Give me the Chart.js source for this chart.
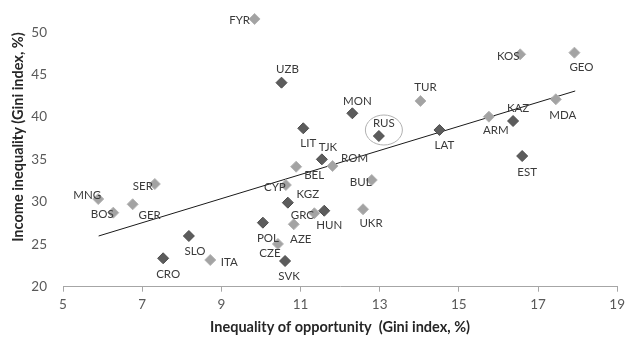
<!DOCTYPE html>
<html>
<head>
<meta charset="utf-8">
<script src="https://cdn.jsdelivr.net/npm/chart.js@4/dist/chart.umd.min.js"></script>
<style>
  html, body { margin: 0; padding: 0; background: #fff; }
  #wrap { width: 630px; height: 338px; position: relative; }
</style>
</head>
<body>
<div id="wrap"><canvas id="c"></canvas></div>
<script>
// Countries with darker markers
const darkCountries = ['UZB', 'MON', 'RUS', 'LIT', 'TJK', 'KGZ', 'HUN', 'POL', 'SVK', 'CRO', 'SLO', 'LAT', 'KAZ', 'EST'];
const darkOpportunity = [10.52, 12.31, 12.98, 11.07, 11.54, 10.68, 11.6, 10.05, 10.61, 7.53, 8.18, 14.51, 16.37, 16.6];
const darkIncome = [44.06, 40.45, 37.77, 38.68, 35.02, 29.91, 28.96, 27.55, 23.03, 23.35, 25.98, 38.48, 39.54, 35.41];

// Countries with lighter markers
const lightCountries = ['FYR', 'TUR', 'KOS', 'GEO', 'MDA', 'ARM', 'ROM', 'BEL', 'CYP', 'BUL', 'GRC', 'AZE', 'CZE', 'UKR', 'ITA', 'MNG', 'BOS', 'SER', 'GER'];
const lightOpportunity = [9.84, 14.03, 16.55, 17.92, 17.45, 15.76, 11.81, 10.89, 10.63, 12.8, 11.35, 10.83, 10.43, 12.58, 8.72, 5.89, 6.27, 7.32, 6.76];
const lightIncome = [51.57, 41.9, 47.4, 47.6, 42.1, 40.05, 34.23, 34.15, 31.99, 32.58, 28.66, 27.36, 25.04, 29.13, 23.15, 30.34, 28.73, 32.11, 29.72];

// Linear trend line end points
const trendOpportunity = [5.9, 17.94];
const trendIncome = [25.98, 43.08];

// Axis tick values
const xTicks = [5, 7, 9, 11, 13, 15, 17, 19];
const yTicks = [20, 25, 30, 35, 40, 45, 50];

const highlightCountry = 'RUS';

// Label placement relative to each marker (pixels)
const labelOffset = {
  FYR: [-15, 1], UZB: [6, -13], MON: [5, -12], RUS: [5, -13], LIT: [5, 15], TJK: [6, -12],
  ROM: [22, -8], TUR: [5, -14], KOS: [-12, 2], GEO: [7, 15], KAZ: [5, -13], ARM: [7, 14],
  MDA: [7, 16], LAT: [5, 15], EST: [5, 16], SER: [-12, 2], MNG: [-11, -4], BOS: [-11, 2],
  GER: [17, 11], SLO: [6, 15], CRO: [5, 16], ITA: [19, 2], BEL: [18, 9], CYP: [-11, 2],
  BUL: [-11, 2], KGZ: [20, -8], GRC: [-12, 2], HUN: [5, 15], UKR: [8, 14], POL: [5, 16],
  AZE: [7, 15], CZE: [-8, 9], SVK: [4, 15]
};

const toPoints = (xs, ys) => xs.map((x, i) => ({ x: x, y: ys[i] }));

const countryLabels = {
  id: 'countryLabels',
  afterDatasetsDraw(chart) {
    const ctx = chart.ctx;
    const area = chart.chartArea;
    const fullArea = { left: 0, top: 0, right: chart.width, bottom: chart.height };
    ctx.save();
    const groups = [[0, darkCountries], [1, lightCountries]];
    // markers above the top tick are skipped by the element itself; draw them on the full canvas
    groups.forEach(([di]) => {
      chart.getDatasetMeta(di).data.forEach(el => {
        if (el.y < area.top || el.y > area.bottom) el.draw(ctx, fullArea);
      });
    });
    ctx.font = '11.5px Lato, "Open Sans", sans-serif';
    ctx.fillStyle = '#3a3a3a';
    ctx.textAlign = 'center';
    ctx.textBaseline = 'middle';
    groups.forEach(([di, names]) => {
      const meta = chart.getDatasetMeta(di);
      names.forEach((name, i) => {
        const el = meta.data[i];
        const off = labelOffset[name] || [0, -12];
        ctx.fillText(name, el.x + off[0], el.y + off[1]);
        if (name === highlightCountry) {
          ctx.beginPath();
          ctx.strokeStyle = '#b0b0b0';
          ctx.lineWidth = 1;
          ctx.ellipse(el.x + 5, el.y - 6, 18.5, 15, 0, 0, Math.PI * 2);
          ctx.stroke();
        }
      });
    });
    ctx.restore();
  }
};

new Chart(document.getElementById('c'), {
  type: 'scatter',
  data: {
    datasets: [
      {
        data: toPoints(darkOpportunity, darkIncome),
        pointStyle: 'rectRot',
        pointRadius: 5.5,
        pointHoverRadius: 5.5,
        backgroundColor: '#5c5c5c',
        borderColor: '#4d4d4d',
        borderWidth: 1,
        clip: false
      },
      {
        data: toPoints(lightOpportunity, lightIncome),
        pointStyle: 'rectRot',
        pointRadius: 5.5,
        pointHoverRadius: 5.5,
        backgroundColor: '#a3a3a3',
        borderColor: '#b3b3b3',
        borderWidth: 1,
        clip: false
      },
      {
        data: toPoints(trendOpportunity, trendIncome),
        showLine: true,
        pointRadius: 0,
        borderColor: '#1a1a1a',
        borderWidth: 1,
        clip: false
      }
    ]
  },
  options: {
    responsive: true,
    maintainAspectRatio: false,
    animation: false,
    events: [],
    layout: { padding: { top: 32.3, right: 10, left: 0, bottom: 0 } },
    plugins: { legend: { display: false }, tooltip: { enabled: false } },
    scales: {
      x: {
        type: 'linear',
        min: 5,
        max: 19,
        afterBuildTicks(scale) { scale.ticks = xTicks.map(v => ({ value: v })); },
        afterFit(scale) { scale.height = 51.3; },
        grid: { drawOnChartArea: false, drawTicks: true, tickLength: 5, color: '#a6a6a6' },
        border: { display: true, color: '#a6a6a6' },
        ticks: { padding: 5, color: '#595959', font: { family: 'Lato', size: 13.5 } },
        title: {
          display: true,
          text: 'Inequality of opportunity  (Gini index, %)',
          color: '#262626',
          font: { family: 'Lato', size: 14.5, weight: 'bold' },
          padding: { top: 0, bottom: 2 }
        }
      },
      y: {
        type: 'linear',
        min: 20,
        max: 50,
        afterBuildTicks(scale) { scale.ticks = yTicks.map(v => ({ value: v })); },
        afterFit(scale) { scale.width = 63; },
        grid: { display: false, drawTicks: false },
        border: { display: false },
        ticks: { padding: 16, color: '#595959', font: { family: 'Lato', size: 13.5 } },
        title: {
          display: true,
          text: 'Income inequality (Gini index, %)',
          align: 'end',
          color: '#262626',
          font: { family: 'Lato', size: 14.5, weight: 'bold' },
          padding: { top: 10, bottom: 0 }
        }
      }
    }
  },
  plugins: [countryLabels]
});
</script>
</body>
</html>
